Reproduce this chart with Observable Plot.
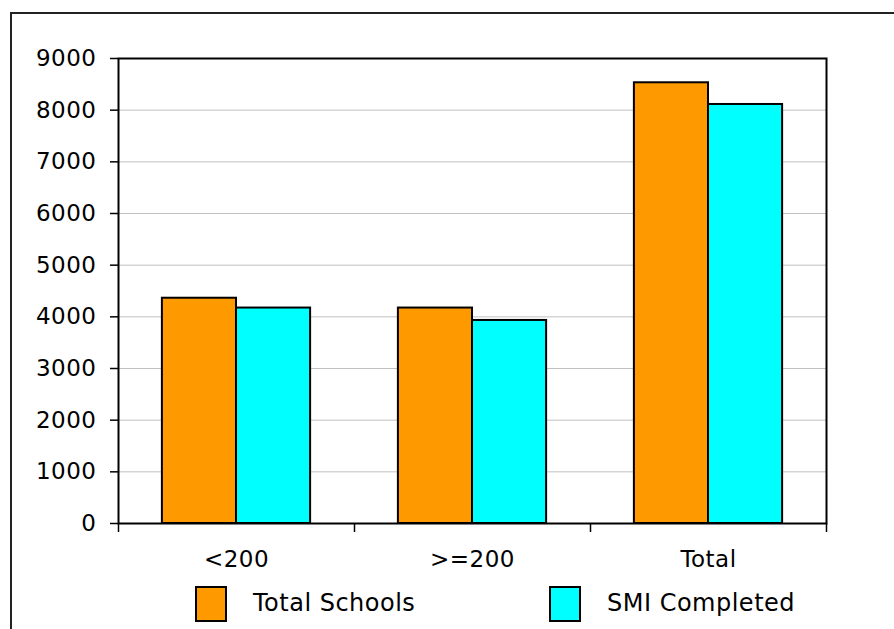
<!DOCTYPE html>
<html>
<head>
<meta charset="utf-8">
<script src="https://cdn.jsdelivr.net/npm/d3@7"></script>
<script src="https://cdn.jsdelivr.net/npm/@observablehq/plot@0.6"></script>
<style>
  html, body { margin: 0; padding: 0; background: white; }
  #wrap { position: relative; width: 894px; height: 629px; overflow: hidden; font-family: "DejaVu Sans", Verdana, sans-serif; }
  #border { position: absolute; left: 10px; top: 12px; width: 1000px; height: 1000px; border-top: 2px solid #222; border-left: 2px solid #222; z-index: 5; pointer-events: none; }
  #chart { position: absolute; left: 0; top: 0; }
  #legend { position: absolute; left: 0; top: 586px; width: 894px; height: 40px; font-size: 24px; letter-spacing: 0.5px; color: #000; }
  .sw { position: absolute; top: 0; width: 28px; height: 32px; border: 2px solid #000; }
  .lt { position: absolute; top: 3px; line-height: 28px; white-space: nowrap; }
</style>
</head>
<body>
<div id="wrap">
  <div id="chart"></div>
  <div id="legend"></div>
  <div id="border"></div>
</div>
<script>
// ---- data ----
const categories = ["<200", ">=200", "Total"];
const seriesNames = ["Total Schools", "SMI Completed"];
const totalSchools = [4360, 4170, 8530];
const smiCompleted = [4170, 3930, 8110];
const yTicks = [0, 1000, 2000, 3000, 4000, 5000, 6000, 7000, 8000, 9000];

// ---- style ----
const colors = ["#FF9900", "#00FFFF"];
const barFrac = 0.314;               // width of one bar as fraction of a category slot
const outerFrac = (1 - 2 * barFrac) / 2;

const seriesValues = [totalSchools, smiCompleted];
const rows = [];
categories.forEach((cat, i) => {
  seriesNames.forEach((s, j) => {
    const x1 = i + outerFrac + j * barFrac;
    rows.push({cat, series: s, value: seriesValues[j][i], x1, x2: x1 + barFrac});
  });
});

const chart = Plot.plot({
  width: 894,
  height: 575,
  marginLeft: 118,
  marginRight: 68,
  marginTop: 58,
  marginBottom: 52,
  style: {fontFamily: '"DejaVu Sans", Verdana, sans-serif', fontSize: "22px", letterSpacing: "0.5px", background: "transparent", color: "#000"},
  x: {domain: [0, categories.length], axis: null, label: null},
  y: {domain: [0, 9000], axis: null, label: null},
  color: {domain: seriesNames, range: colors},
  marks: [
    Plot.gridY(yTicks, {stroke: "#c0c0c0", strokeOpacity: 1, strokeWidth: 1}),
    Plot.rectY(rows, {x1: "x1", x2: "x2", y: "value", fill: "series", stroke: "#000", strokeWidth: 2}),
    Plot.frame({stroke: "#000", strokeWidth: 2}),
    Plot.axisY({ticks: yTicks, label: null, tickSize: 8, tickPadding: 14, fontSize: 23, tickFormat: d => String(d), stroke: "#000", strokeWidth: 1.5, fill: "#000"}),
    Plot.axisX({ticks: d3.range(categories.length + 1), label: null, tickSize: 9, tickFormat: () => "", stroke: "#000", strokeWidth: 1.5}),
    Plot.axisX({ticks: categories.map((c, i) => i + 0.5), label: null, tickSize: 0, tickPadding: 27, fontSize: 23, tickFormat: v => categories[Math.floor(v)], fill: "#000"})
  ]
});
document.getElementById("chart").appendChild(chart);

// ---- legend ----
const legendPos = [{sw: 195, tx: 253}, {sw: 549, tx: 607}];
const legend = document.getElementById("legend");
seriesNames.forEach((s, j) => {
  const sw = document.createElement("div");
  sw.className = "sw";
  sw.style.left = legendPos[j].sw + "px";
  sw.style.background = colors[j];
  legend.appendChild(sw);
  const t = document.createElement("div");
  t.className = "lt";
  t.style.left = legendPos[j].tx + "px";
  t.textContent = s;
  legend.appendChild(t);
});
</script>
</body>
</html>
